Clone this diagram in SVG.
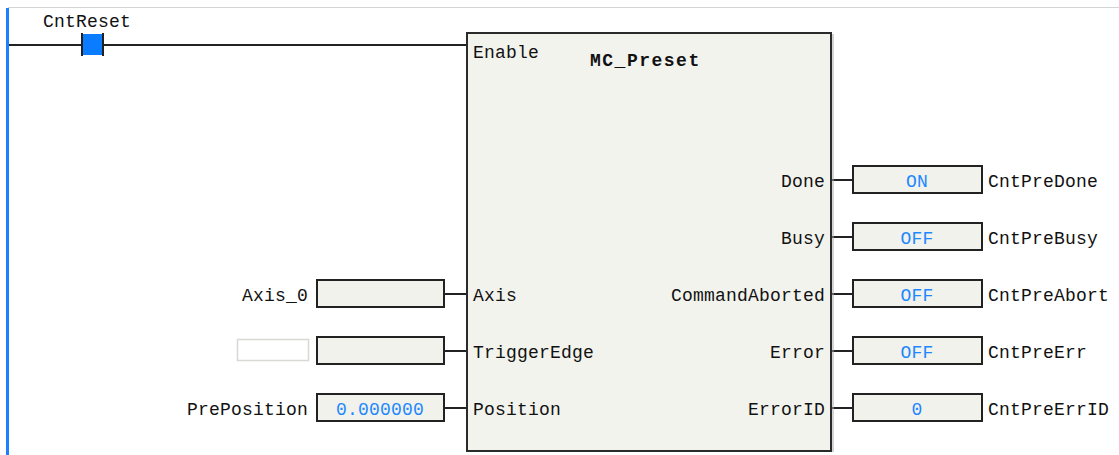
<svg xmlns="http://www.w3.org/2000/svg" width="1119" height="455" viewBox="0 0 1119 455">
<style>
text{font-family:"Liberation Mono","DejaVu Sans Mono",monospace;font-size:18px;fill:#111;letter-spacing:0.2px}
.r{text-anchor:end}
.v{fill:#1e88ff;text-anchor:middle}
.t{font-weight:bold;letter-spacing:1.5px}
.vb{fill:#f2f2ec;stroke:#222;stroke-width:2}
.w{stroke:#222;stroke-width:2;fill:none}
</style>
<rect width="1119" height="455" fill="#fff"/>
<line x1="8" y1="7.5" x2="1119" y2="7.5" stroke="#d4d4d4" stroke-width="1"/>
<rect x="6" y="8" width="3" height="447" fill="#1e7fff"/>
<g id="connectors">
<line class="w" x1="9" y1="45" x2="81" y2="45"/>
<line class="w" x1="104" y1="45" x2="467" y2="45"/>
<line class="w" x1="444" y1="294" x2="467" y2="294"/>
<line class="w" x1="444" y1="351" x2="467" y2="351"/>
<line class="w" x1="444" y1="408" x2="467" y2="408"/>
<line class="w" x1="832" y1="180" x2="853" y2="180"/>
<line class="w" x1="832" y1="237" x2="853" y2="237"/>
<line class="w" x1="832" y1="294" x2="853" y2="294"/>
<line class="w" x1="832" y1="351" x2="853" y2="351"/>
<line class="w" x1="832" y1="408" x2="853" y2="408"/>
</g>
<g id="contact">
<text x="43" y="27">CntReset</text>
<rect x="81" y="34" width="23" height="21" fill="#0a7cff"/>
<line x1="82" y1="33" x2="82" y2="56" stroke="#222" stroke-width="2"/>
<line x1="103" y1="33" x2="103" y2="56" stroke="#222" stroke-width="2"/>
</g>
<g id="block">
<line x1="833" y1="34" x2="833" y2="452" stroke="#aaa" stroke-width="1"/>
<rect x="467" y="33" width="364" height="418" fill="#f3f3ee" stroke="#2a2a2a" stroke-width="2"/>
<text x="473" y="58">Enable</text>
<text class="t" x="590" y="66">MC_Preset</text>
<text x="473" y="301">Axis</text>
<text x="473" y="358">TriggerEdge</text>
<text x="473" y="415">Position</text>
<text class="r" x="825" y="187">Done</text>
<text class="r" x="825" y="244">Busy</text>
<text class="r" x="825" y="301">CommandAborted</text>
<text class="r" x="825" y="358">Error</text>
<text class="r" x="825" y="415">ErrorID</text>
</g>
<g id="in-axis">
<text class="r" x="308" y="301">Axis_0</text>
<rect class="vb" x="317" y="280" width="127" height="27"/>
</g>
<g id="in-trigger">
<rect x="237.5" y="339.5" width="71" height="21" fill="#fff" stroke="#d8d8d4" stroke-width="1.5"/>
<rect class="vb" x="317" y="337" width="127" height="27"/>
</g>
<g id="in-position">
<text class="r" x="308" y="415">PrePosition</text>
<rect class="vb" x="317" y="394" width="127" height="27"/>
<text class="v" x="380" y="415">0.000000</text>
</g>
<g id="out-done">
<rect class="vb" x="853" y="166" width="129" height="27"/>
<text class="v" x="917" y="187">ON</text>
<text x="988" y="187">CntPreDone</text>
</g>
<g id="out-busy">
<rect class="vb" x="853" y="223" width="129" height="27"/>
<text class="v" x="917" y="244">OFF</text>
<text x="988" y="244">CntPreBusy</text>
</g>
<g id="out-abort">
<rect class="vb" x="853" y="280" width="129" height="27"/>
<text class="v" x="917" y="301">OFF</text>
<text x="988" y="301">CntPreAbort</text>
</g>
<g id="out-error">
<rect class="vb" x="853" y="337" width="129" height="27"/>
<text class="v" x="917" y="358">OFF</text>
<text x="988" y="358">CntPreErr</text>
</g>
<g id="out-errorid">
<rect class="vb" x="853" y="394" width="129" height="27"/>
<text class="v" x="917" y="415">0</text>
<text x="988" y="415">CntPreErrID</text>
</g>
</svg>
